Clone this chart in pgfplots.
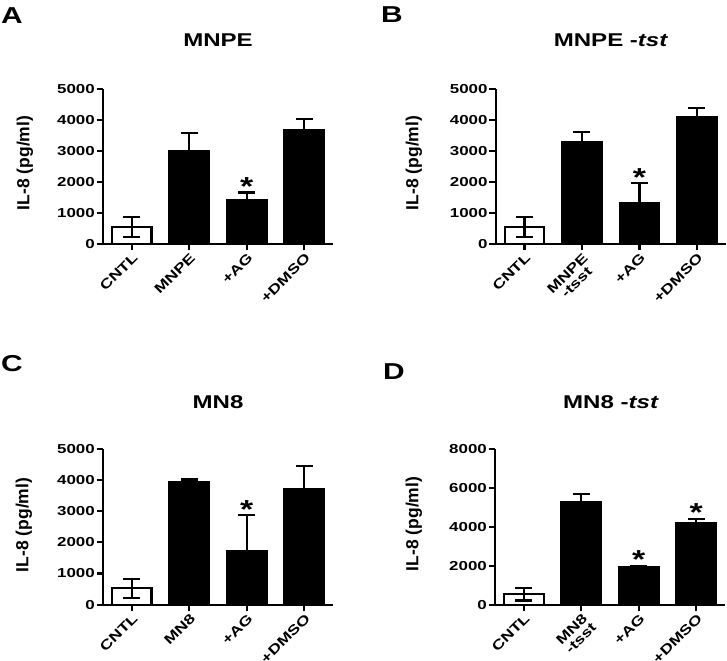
\documentclass[border=0pt]{standalone}
\usepackage{fontspec}
\setmainfont{Liberation Sans}[FakeStretch=1.3]
\newfontfamily\plainsans{Liberation Sans}
\usepackage{pgfplots}
\pgfplotsset{compat=1.18}
\pgfplotsset{
  panel/.style={
    scale only axis, width=230bp, anchor=south west,
    axis lines*=left,
    axis line style={line width=2.2bp, -, black},
    xmin=-0.5, xmax=3.5, ymin=0,
    xtick={0,1,2,3},
    tick style={line width=2.2bp, black},
    major tick length=6.5bp,
    tick align=outside,
    clip=false,
    /pgf/number format/assume math mode=true,
    /pgf/number format/1000 sep={},
    yticklabel style={font=\fontsize{13bp}{14bp}\selectfont\bfseries, inner sep=1.5bp},
    xticklabel style={rotate=45, anchor=north east, align=center, inner sep=1bp,
      font=\fontsize{13.5bp}{13bp}\selectfont\bfseries},
  },
  wbar/.style={ybar, bar shift=0pt, bar width=0.69, fill=white, draw=black, line width=2.2bp,
    error bars/.cd, y dir=both, y explicit,
    error bar style={line width=2.2bp, black},
    error mark options={rotate=90, line width=2.2bp, mark size=8.5bp, black}},
  bbar/.style={ybar, bar shift=0pt, bar width=0.69, fill=black, draw=black, line width=2.2bp,
    error bars/.cd, y dir=both, y explicit,
    error bar style={line width=2.2bp, black},
    error mark options={rotate=90, line width=2.2bp, mark size=8.5bp, black}},
}
\newcommand{\ttl}{\fontsize{18.5bp}{20bp}\selectfont\bfseries}
\newcommand{\lett}{\fontsize{23bp}{24bp}\selectfont\bfseries}
\newcommand{\ylab}{\plainsans\fontsize{17.5bp}{18bp}\selectfont\bfseries IL-8 (pg/ml)}
\newcommand{\st}{\fontsize{26bp}{26bp}\selectfont\bfseries *}
\begin{document}
\begin{tikzpicture}[x=1bp,y=1bp]
\path[use as bounding box] (0,0) rectangle (727,661);
% Panel A
\begin{axis}[panel, at={(103bp,417bp)}, height=155bp, ymax=5000,
  ytick={0,1000,...,5000}, xticklabels={CNTL,MNPE,+AG,+DMSO}]
\addplot[wbar] coordinates {(0,540) +- (0,320)};
\addplot[bbar] coordinates {(1,3000) +- (0,570) (2,1420) +- (0,240) (3,3660) +- (0,380)};
\node[anchor=base, yshift=-3bp] at (axis cs:2,1660) {\st};
\end{axis}
% Panel B
\begin{axis}[panel, at={(495.7bp,417bp)}, height=155bp, ymax=5000,
  ytick={0,1000,...,5000}, xticklabels={CNTL,{MNPE\\-tsst},+AG,+DMSO}]
\addplot[wbar] coordinates {(0,540) +- (0,320)};
\addplot[bbar] coordinates {(1,3290) +- (0,310) (2,1310) +- (0,650) (3,4090) +- (0,290)};
\node[anchor=base, yshift=-3bp] at (axis cs:2,1960) {\st};
\end{axis}
% Panel C
\begin{axis}[panel, at={(103bp,56.3bp)}, height=156bp, ymax=5000,
  ytick={0,1000,...,5000}, xticklabels={CNTL,MN8,+AG,+DMSO}]
\addplot[wbar] coordinates {(0,525) +- (0,310)};
\addplot[bbar] coordinates {(1,3940) +- (0,70) (2,1730) +- (0,1135) (3,3690) +- (0,760)};
\node[anchor=base, yshift=-3bp] at (axis cs:2,2865) {\st};
\end{axis}
% Panel D
\begin{axis}[panel, at={(495bp,56.3bp)}, height=156bp, ymax=8000,
  ytick={0,2000,...,8000}, xticklabels={CNTL,{MN8\\-tsst},+AG,+DMSO}]
\addplot[wbar] coordinates {(0,530) +- (0,310)};
\addplot[bbar] coordinates {(1,5280) +- (0,400) (2,1950) +- (0,50) (3,4200) +- (0,210)};
\node[anchor=base, yshift=-3bp] at (axis cs:2,2000) {\st};
\node[anchor=base, yshift=-3bp] at (axis cs:3,4410) {\st};
\end{axis}
% Titles
\node[anchor=base] at (218,614.3) {\ttl MNPE};
\node[anchor=base] at (611,614.3) {\ttl MNPE -\textit{tst}};
\node[anchor=base] at (218,252.7) {\ttl MN8};
\node[anchor=base] at (611,252.7) {\ttl MN8 -\textit{tst}};
% Letters
\node[anchor=base west, inner sep=0pt] at (1,637.7) {\lett A};
\node[anchor=base west, inner sep=0pt] at (381,638) {\lett B};
\node[anchor=base west, inner sep=0pt] at (1,289.3) {\lett C};
\node[anchor=base west, inner sep=0pt] at (383,281) {\lett D};
% Y labels
\node[rotate=90] at (25,498) {\ylab};
\node[rotate=90] at (414,498) {\ylab};
\node[rotate=90] at (24,136) {\ylab};
\node[rotate=90] at (414,137) {\ylab};
\end{tikzpicture}
\end{document}
